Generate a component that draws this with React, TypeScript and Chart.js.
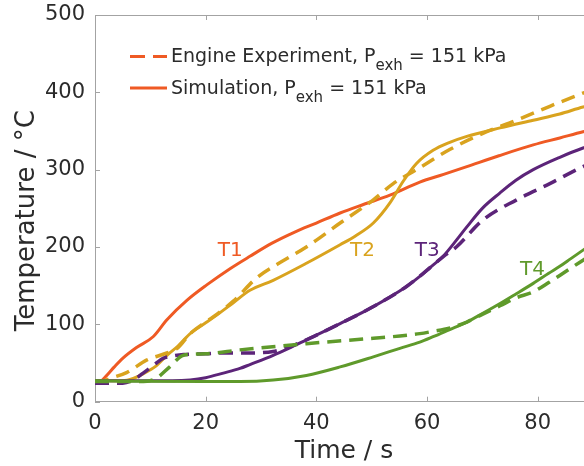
import React, { useEffect, useRef } from 'react';
import { Chart, registerables } from 'chart.js';

Chart.register(...registerables);

// ---- data (time in s, temperature in °C) ----
const t1SimX = [0, 1, 2, 3.5, 5, 7.5, 10.5, 13, 16.6, 20.2, 24.4, 28, 32, 36, 40, 44.3, 48.5, 53.3, 58.7, 63, 67.2, 73, 79.2, 84, 88.2, 90];
const t1SimY = [27, 27, 33, 45, 56, 70, 84, 106, 131, 151, 172, 188, 205, 219, 231, 244, 255, 267, 284, 294, 304, 318, 332, 341, 349, 352];

const t2SimX = [0, 5, 6.9, 8.7, 11, 13, 15, 17.2, 20, 22, 25, 28, 32.2, 38.2, 44.3, 47, 50.3, 53.3, 55.7, 58.1, 61.1, 64, 67.2, 73.2, 79.2, 84, 88.2, 90];
const t2SimY = [27, 27, 30, 36, 46, 60, 72, 88, 102, 112, 128, 144, 157, 179, 203, 214, 231, 257, 285, 308, 325, 335, 343, 354, 364, 372, 381, 384];
const t2ExpX = [0, 1.5, 2.7, 5.8, 9.4, 13, 15, 17.2, 20, 22, 25, 29.2, 33, 38.2, 44.3, 50.3, 53.9, 58.1, 64.1, 70.1, 76.2, 82.2, 88.2, 90];
const t2ExpY = [27, 27, 30, 38, 54, 63, 70, 88, 103, 113, 130, 160, 178, 200, 231, 261, 282, 300, 326, 347, 364, 382, 399, 404];

const t3SimX = [0, 10, 14, 17.2, 20, 23.2, 26.2, 28, 32.2, 35, 38.2, 44.3, 50.3, 56.3, 58.7, 60.5, 62.9, 65, 67.2, 70, 73.2, 76, 79.2, 84, 88.2, 90];
const t3SimY = [27, 27, 27, 28, 31, 37, 43, 48, 60, 69, 80, 101, 123, 149, 162, 173, 188, 206, 226, 250, 270, 286, 300, 316, 328, 332];
const t3ExpX = [0, 5, 6.9, 8.7, 11.1, 12.3, 14, 16, 20, 23.2, 28, 32.2, 35.2, 38.2, 44.3, 50.3, 56.3, 60, 63, 65.3, 70.1, 76.2, 82.2, 88.2, 90];
const t3ExpY = [24, 24, 28, 37, 50, 56, 59, 61, 62, 63, 63, 65, 71, 80, 101, 123, 149, 170, 188, 200, 235, 261, 282, 304, 309];

const t4SimX = [0, 20, 26.2, 32.2, 38.2, 44.3, 50.3, 55.1, 58.7, 61.1, 64, 67.2, 70, 73.2, 76, 79.2, 82, 84, 86, 88.2, 90];
const t4SimY = [27, 26, 26, 28, 34, 45, 58, 69, 77, 84, 93, 103, 114, 127, 139, 153, 166, 175, 185, 196, 205];
const t4ExpX = [0, 8, 11, 13.5, 16, 20, 26.2, 38.2, 50.3, 55.1, 58.7, 61.1, 64, 67.2, 70, 73.2, 76, 79.2, 82, 85, 88.2, 90];
const t4ExpY = [26, 26, 30, 45, 60, 62, 67, 75, 82, 85, 88, 91, 95, 103, 113, 124, 134, 142, 154, 168, 183, 191];

const xTicks = [0, 20, 40, 60, 80];
const yTicks = [0, 100, 200, 300, 400, 500];

const curveLabels = ['T1', 'T2', 'T3', 'T4'];
const curveLabelX = [22.2, 46.1, 57.8, 76.8];
const curveLabelY = [188, 188, 189, 164];

const legendRows = ['Engine Experiment, P', 'Simulation, P'];
const legendSub = 'exh';
const legendTail = ' = 151 kPa';

// ---- styles ----
const ORANGE = '#EF5A24';
const GOLD = '#D9A31E';
const PURPLE = '#5C2479';
const GREEN = '#5F9A2B';
const labelColors = [ORANGE, GOLD, PURPLE, GREEN];
const TEXT = '#2b2b2b';
const AXIS = '#a3a3a3';
const FONT = 'DejaVu Sans';
const DASH = [14, 8];

const pts = (xs: number[], ys: number[]) => xs.map((x, i) => ({ x, y: ys[i] }));

const overlay = {
  id: 'overlay',
  afterDraw(chart: any) {
    const { ctx, chartArea: a, scales } = chart;
    const xs = scales.x;
    const ys = scales.y;
    ctx.save();
    // top frame line
    ctx.strokeStyle = AXIS;
    ctx.lineWidth = 1;
    ctx.beginPath();
    ctx.moveTo(a.left, a.top + 0.5);
    ctx.lineTo(a.right, a.top + 0.5);
    ctx.stroke();
    // inward tick marks
    ctx.beginPath();
    xTicks.forEach((v) => {
      const px = Math.round(xs.getPixelForValue(v)) + 0.5;
      ctx.moveTo(px, a.bottom);
      ctx.lineTo(px, a.bottom - 5);
      ctx.moveTo(px, a.top);
      ctx.lineTo(px, a.top + 5);
    });
    yTicks.forEach((v) => {
      const py = Math.round(ys.getPixelForValue(v)) + 0.5;
      ctx.moveTo(a.left, py);
      ctx.lineTo(a.left + 5, py);
    });
    ctx.stroke();

    // legend
    const lx = a.left + 35;
    const rowsY = [a.top + 47, a.top + 78.5];
    rowsY.forEach((by, i) => {
      ctx.strokeStyle = ORANGE;
      ctx.lineWidth = 3;
      ctx.setLineDash(i === 0 ? [15, 8] : []);
      ctx.beginPath();
      ctx.moveTo(lx, by - 5.5);
      ctx.lineTo(lx + 37, by - 5.5);
      ctx.stroke();
      ctx.setLineDash([]);
      ctx.fillStyle = TEXT;
      ctx.textBaseline = 'alphabetic';
      ctx.textAlign = 'left';
      let tx = lx + 41;
      ctx.font = `19px "${FONT}"`;
      ctx.fillText(legendRows[i], tx, by);
      tx += ctx.measureText(legendRows[i]).width;
      ctx.font = `15px "${FONT}"`;
      ctx.fillText(legendSub, tx, by + 8);
      tx += ctx.measureText(legendSub).width;
      ctx.font = `19px "${FONT}"`;
      ctx.fillText(legendTail, tx, by);
    });

    // curve labels
    ctx.font = `20px "${FONT}"`;
    ctx.textBaseline = 'alphabetic';
    ctx.textAlign = 'left';
    curveLabels.forEach((t, i) => {
      ctx.fillStyle = labelColors[i];
      ctx.fillText(t, xs.getPixelForValue(curveLabelX[i]), ys.getPixelForValue(curveLabelY[i]));
    });
    ctx.restore();
  },
};

export default function App() {
  const ref = useRef<HTMLCanvasElement | null>(null);

  useEffect(() => {
    if (!ref.current) return;
    Chart.defaults.font.family = FONT;
    const common = { pointRadius: 0, borderWidth: 3, fill: false, cubicInterpolationMode: 'monotone' as const };
    const chart = new Chart(ref.current, {
      type: 'line',
      data: {
        datasets: [
          { label: 'T4 experiment', data: pts(t4ExpX, t4ExpY), borderColor: GREEN, borderDash: DASH, ...common, borderWidth: 3.5 },
          { label: 'T4 simulation', data: pts(t4SimX, t4SimY), borderColor: GREEN, ...common },
          { label: 'T3 experiment', data: pts(t3ExpX, t3ExpY), borderColor: PURPLE, borderDash: DASH, ...common, borderWidth: 3.5 },
          { label: 'T3 simulation', data: pts(t3SimX, t3SimY), borderColor: PURPLE, ...common },
          { label: 'T2 experiment', data: pts(t2ExpX, t2ExpY), borderColor: GOLD, borderDash: DASH, ...common, borderWidth: 3.5 },
          { label: 'T2 simulation', data: pts(t2SimX, t2SimY), borderColor: GOLD, ...common },
          { label: 'T1 simulation', data: pts(t1SimX, t1SimY), borderColor: ORANGE, ...common },
        ],
      },
      options: {
        responsive: false,
        animation: false,
        devicePixelRatio: 1,
        layout: { padding: { left: 0, right: 7, top: 15, bottom: 0 } },
        plugins: { legend: { display: false }, tooltip: { enabled: false } },
        scales: {
          x: {
            type: 'linear',
            min: 0,
            max: 90,
            afterBuildTicks: (s: any) => { s.ticks = xTicks.map((v) => ({ value: v })); },
            afterFit: (s: any) => { s.height = 64.3; s.paddingLeft = 0; s.paddingRight = 0; },
            grid: { display: false, drawTicks: false },
            border: { display: true, color: AXIS, width: 1 },
            ticks: { color: TEXT, font: { size: 21, family: FONT }, padding: 9, maxRotation: 0 },
            title: { display: true, text: 'Time / s', color: TEXT, font: { size: 25, family: FONT }, padding: { top: 0, bottom: 0 } },
          },
          y: {
            type: 'linear',
            min: 0,
            max: 500,
            afterBuildTicks: (s: any) => { s.ticks = yTicks.map((v) => ({ value: v })); },
            afterFit: (s: any) => { s.width = 95; s.paddingTop = 0; s.paddingBottom = 0; },
            grid: { display: false, drawTicks: false },
            border: { display: true, color: AXIS, width: 1 },
            ticks: { color: TEXT, font: { size: 21, family: FONT }, padding: 10 },
            title: { display: true, text: 'Temperature / °C\u00a0\u00a0\u00a0', color: TEXT, font: { size: 26, family: FONT }, padding: { top: 12, bottom: 0 } },
          },
        },
      },
      plugins: [overlay],
    });
    return () => chart.destroy();
  }, []);

  return (
    <div style={{ position: 'fixed', left: 0, top: 0, width: 584, height: 466, overflow: 'hidden', background: '#fff' }}>
      <canvas ref={ref} width={600} height={466} style={{ display: 'block' }} />
    </div>
  );
}
